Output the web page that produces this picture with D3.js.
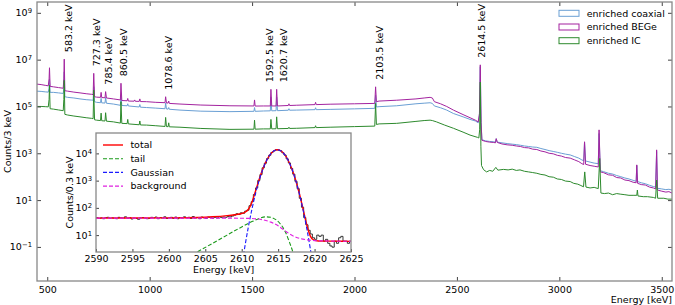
<!DOCTYPE html>
<html>
<head>
<meta charset="utf-8">
<script src="https://cdn.jsdelivr.net/npm/d3@7"></script>
<style>
body{margin:0;background:#fff;}
text{font-family:"DejaVu Sans",sans-serif;fill:#000;}
</style>
</head>
<body>
<div id="chart"></div>
<script>
// ---- main spectra: [energy keV, counts / 3 keV] ----
var coaxial = [[450,4.5e5],[470,4.4e5],[490,4.2e5],[505,4.1e5],[509,6e5],[511,1.5e6],[514,4e5],[530,4e5],[555,3.8e5],[578,3.6e5],[581,6e5],[583,3e6],[586,2.6e5],[600,2.45e5],[630,2.3e5],[660,2.1e5],[690,1.95e5],[717,1.87e5],[724,1.85e5],[727,7e5],[731,1.6e5],[741,1.5e5],[760,1.45e5],[763,2.2e5],[766,1.42e5],[782,1.4e5],[785,2.4e5],[789,1.37e5],[823,1.27e5],[857,1.12e5],[860,3e5],[864,1.1e5],[890,1.07e5],[893,1.3e5],[896,1.05e5],[949,9.5e4],[952,1.2e5],[955,9.3e4],[985,9e4],[1030,8.5e4],[1075,8e4],[1078,1.4e5],[1082,7.8e4],[1090,7.7e4],[1093,9e4],[1096,7.6e4],[1148,7e4],[1250,6.3e4],[1392,6e4],[1509,6.2e4],[1512,9e4],[1515,6.2e4],[1555,6.4e4],[1589,6.5e4],[1592,2.5e5],[1596,6.5e4],[1617,6.6e4],[1620,2.5e5],[1624,6.6e4],[1677,6.9e4],[1680,8e4],[1683,6.9e4],[1718,7e4],[1807,7.3e4],[1810,8.8e4],[1813,7.3e4],[1881,7.5e4],[2000,7.9e4],[2099,8.3e4],[2103,3e5],[2107,9.5e4],[2120,9.8e4],[2206,1.07e5],[2300,1.3e5],[2340,1.38e5],[2369,1.44e5],[2380,1.35e5],[2390,1.05e5],[2420,8.8e4],[2450,7e4],[2483,5e4],[2530,3.6e4],[2564,2.8e4],[2590,2.4e4],[2604,2e4],[2610,4e4],[2614,5e6],[2618,2e4],[2622,3.8e3],[2640,3.4e3],[2660,3.2e3],[2680,3.1e3],[2688,3e3],[2692,4.2e3],[2697,3e3],[2720,2.8e3],[2745,2.6e3],[2770,2.45e3],[2790,2.35e3],[2810,2.2e3],[2830,2.05e3],[2850,1.95e3],[2870,1.85e3],[2890,1.8e3],[2910,1.6e3],[2930,1.45e3],[2950,1.3e3],[2970,1.2e3],[2990,1.1e3],[3010,1e3],[3030,920],[3053,850],[3075,720],[3095,620],[3110,520],[3119,480],[3123,3e3],[3128,470],[3150,420],[3170,380],[3190,360],[3194,7e3],[3200,180],[3215,165],[3240,140],[3260,130],[3280,112],[3300,100],[3320,88],[3340,80],[3360,70],[3375,64],[3378,300],[3382,62],[3400,55],[3420,50],[3440,43],[3459,38],[3470,36],[3475,1.2e3],[3479,32],[3500,30],[3520,28],[3535,29],[3550,27]];

var bege = [[450,9e5],[470,8.6e5],[490,8e5],[505,7.6e5],[509,1.5e6],[511,4.5e6],[514,7.2e5],[530,6.9e5],[555,6.4e5],[578,6e5],[581,1.5e6],[583,1.05e7],[586,4.7e5],[600,4.5e5],[630,4.1e5],[660,3.8e5],[690,3.5e5],[717,3.3e5],[724,3.2e5],[727,2.6e6],[731,2.6e5],[741,2.5e5],[760,2.45e5],[763,4e5],[766,2.4e5],[782,2.35e5],[785,4.3e5],[789,2.3e5],[823,2.1e5],[857,1.9e5],[860,9.8e5],[864,1.8e5],[890,1.75e5],[893,2.2e5],[896,1.7e5],[924,1.68e5],[927,1.9e5],[930,1.66e5],[949,1.65e5],[952,2.1e5],[955,1.62e5],[985,1.6e5],[1030,1.5e5],[1075,1.45e5],[1078,2.6e5],[1082,1.4e5],[1090,1.4e5],[1093,1.7e5],[1096,1.35e5],[1148,1.27e5],[1250,1.15e5],[1392,1.07e5],[1509,1.05e5],[1512,1.9e5],[1515,1.04e5],[1555,1.05e5],[1589,1.05e5],[1592,5.4e5],[1596,1.05e5],[1617,1.05e5],[1620,5.4e5],[1624,1.05e5],[1677,1.1e5],[1680,1.3e5],[1683,1.1e5],[1718,1.13e5],[1807,1.2e5],[1810,1.5e5],[1813,1.2e5],[1881,1.25e5],[2000,1.3e5],[2099,1.35e5],[2103,6.9e5],[2107,1.6e5],[2120,1.7e5],[2206,1.85e5],[2300,2.1e5],[2340,2.3e5],[2369,2.45e5],[2380,2.3e5],[2390,1.6e5],[2420,1.3e5],[2450,1e5],[2483,7e4],[2530,4.5e4],[2564,3.3e4],[2590,2.6e4],[2604,2.2e4],[2610,5e4],[2614,6e6],[2618,2e4],[2622,3.6e3],[2640,3.2e3],[2660,3.0e3],[2680,2.9e3],[2688,2.8e3],[2692,4.2e3],[2697,2.9e3],[2720,2.5e3],[2745,2.3e3],[2770,2.2e3],[2790,2.05e3],[2810,1.95e3],[2830,1.75e3],[2850,1.7e3],[2870,1.5e3],[2890,1.45e3],[2910,1.25e3],[2930,1.15e3],[2950,1e3],[2970,950],[2990,820],[3010,760],[3030,660],[3053,620],[3075,520],[3095,440],[3110,360],[3119,330],[3123,3.1e3],[3128,340],[3150,300],[3170,280],[3190,260],[3194,1e4],[3200,160],[3215,150],[3240,120],[3260,115],[3280,92],[3300,88],[3320,72],[3340,68],[3360,58],[3375,55],[3378,320],[3382,52],[3400,46],[3420,44],[3440,36],[3459,33],[3470,30],[3475,1.4e3],[3479,27],[3500,24],[3520,22],[3535,23],[3550,20]];

var ic = [[450,1e5],[470,1e5],[490,9.8e4],[505,9.6e4],[509,2e5],[511,8e5],[514,8e4],[530,7.7e4],[555,7.1e4],[578,6.6e4],[581,2e5],[583,1.3e6],[586,4.6e4],[600,4.3e4],[630,3.9e4],[660,3.6e4],[690,3.3e4],[717,3.1e4],[724,3e4],[727,5e5],[731,2.7e4],[741,2.6e4],[760,2.5e4],[763,5.2e4],[766,2.45e4],[782,2.4e4],[785,5.4e4],[789,2.35e4],[823,2.2e4],[857,1.95e4],[860,1.6e5],[864,1.9e4],[890,1.85e4],[893,2.8e4],[896,1.8e4],[949,1.65e4],[952,2.4e4],[955,1.62e4],[985,1.6e4],[1030,1.5e4],[1075,1.4e4],[1078,3.4e4],[1082,1.38e4],[1090,1.37e4],[1093,2e4],[1096,1.35e4],[1148,1.3e4],[1250,1.15e4],[1392,1.05e4],[1509,1.07e4],[1512,2.6e4],[1515,1.07e4],[1555,1.1e4],[1589,1.1e4],[1592,2.8e4],[1596,1.1e4],[1617,1.12e4],[1620,3.6e4],[1624,1.12e4],[1677,1.15e4],[1680,1.3e4],[1683,1.15e4],[1718,1.17e4],[1807,1.25e4],[1810,1.5e4],[1813,1.25e4],[1881,1.3e4],[2000,1.38e4],[2099,1.45e4],[2103,1.35e5],[2107,1.7e4],[2120,1.8e4],[2206,1.9e4],[2300,2.3e4],[2340,2.5e4],[2369,2.6e4],[2380,2.5e4],[2400,2.2e4],[2440,1.6e4],[2483,1.17e4],[2530,8e3],[2564,6e3],[2600,4.8e3],[2607,4.5e3],[2611,1e4],[2614,1.1e6],[2617,2e3],[2620,300],[2630,200],[2645,160],[2660,185],[2675,170],[2690,250],[2700,190],[2727,205],[2750,195],[2770,210],[2790,185],[2808,195],[2830,170],[2850,160],[2870,150],[2890,140],[2910,125],[2930,118],[2950,100],[2971,95],[2990,80],[3010,76],[3030,65],[3053,62],[3070,52],[3090,48],[3105,42],[3118,37],[3124,160],[3130,36],[3150,33],[3170,35],[3190,31],[3197,600],[3203,20],[3220,19],[3240,20],[3260,17],[3280,19],[3297,18],[3320,17],[3340,16],[3360,16],[3378,16],[3381,27],[3384,15],[3410,14],[3430,14],[3459,13],[3470,12],[3475,72],[3480,12],[3510,12],[3530,11],[3550,11]];

var seriesNames = ["enriched coaxial", "enriched BEGe", "enriched IC"];
var seriesColors = ["#6a9fd4", "#a3239f", "#2d8a2d"];

var peakE = [583.2, 727.3, 785.4, 860.5, 1078.6, 1592.5, 1620.7, 2103.5, 2614.5];
var peakTop = [1.05e7, 2.6e6, 4.3e5, 9.8e5, 2.6e5, 5.4e5, 5.4e5, 6.9e5, 6e6];
var peakText = ["583.2 keV","727.3 keV","785.4 keV","860.5 keV","1078.6 keV","1592.5 keV","1620.7 keV","2103.5 keV","2614.5 keV"];
var peakShift = [4, 3, 3, 3, 3, -1, 7, 4, 1];

var xTicks = [500, 1000, 1500, 2000, 2500, 3000, 3500];
var yTicks = [1e-1, 1e1, 1e3, 1e5, 1e7, 1e9];

// ---- inset: 2614.5 keV line, 0.3 keV bins from 2590 ----
var binStart = 2590, binWidth = 0.3;
var binCounts = [44,41,43,40,44,45,41,43,42,40,45,43,42,47,41,44,39,42,41,38,43,44,42,40,41,45,43,46,40,44,42,47,41,43,45,41,46,40,44,42,47,43,45,41,48,42,44,40,46,43,41,46,44,42,45,43,47,44,46,45,48,47,50,54,
 61,57,66,63,76,82,120,168,310,540,1020,1680,2950,4350,6400,8500,10800,12300,13500,13300,12500,10600,8700,6300,4450,2800,1720,940,510,225,105,44,24,15,11,8,
 7,10,9,10,6,7,5,4,3.6,6,5,8,9,6,6,5,6];

var fitTotal = [[2590,42],[2600,43],[2604,44.5],[2606,47],[2608,52],[2609,56],[2610,62],[2610.4,68],[2610.9,87],[2611.4,162],[2611.9,415],[2612.4,1120],[2612.9,2700],[2613.4,5450],[2613.9,9040],[2614.4,12260],[2614.9,13550],[2615.4,12230],[2615.9,8990],[2616.4,5385],[2616.9,2630],[2617.4,1050],[2617.9,345],[2618.4,96],[2618.9,25.5],[2619.4,9.4],[2619.9,6.5],[2620.5,6.1],[2622,6],[2625,5.9]];
var fitTail = [[2602.5,1.5],[2604,2.5],[2606,5],[2608,10],[2610,20],[2611.5,32],[2612.5,42],[2613.3,47],[2614,45],[2614.8,35],[2615.5,22],[2616,13],[2616.5,6],[2617,2.5],[2617.5,0.8]];
var fitGauss = [[2609.4,0.055],[2609.9,0.48],[2610.4,3.35],[2610.9,19.2],[2611.4,89],[2611.9,338],[2612.4,1042],[2612.9,2620],[2613.4,5370],[2613.9,8960],[2614.4,12190],[2614.9,13500],[2615.4,12190],[2615.9,8960],[2616.4,5370],[2616.9,2620],[2617.4,1042],[2617.9,338],[2618.4,89],[2618.9,19.2],[2619.4,3.35],[2619.9,0.48],[2620.4,0.055]];
var fitBg = [[2590,42],[2608,42],[2611,41],[2612,39.5],[2613,36],[2614,30],[2615,22],[2616,14],[2617,9.5],[2618,7.5],[2619,6.7],[2620,6.3],[2622,6.1],[2625,5.9]];

var insetNames = ["total", "tail", "Gaussian", "background"];
var insetColors = ["#ff0000", "#1a9a1a", "#1a1aff", "#e020e0"];
var insetDash = [null, "4,2", "4,2", "4,2"];
var insetXTicks = [2590, 2595, 2600, 2605, 2610, 2615, 2620, 2625];
var insetYTicks = [1e1, 1e2, 1e3, 1e4];

// ---- layout ----
var W = 675, H = 305;
var margin = {top: 2, right: 3, bottom: 24, left: 37};
var width = W - margin.left - margin.right,
    height = H - margin.top - margin.bottom;
var frameColor = "#888";

var svg = d3.select("#chart").append("svg").attr("width", W).attr("height", H);
var g = svg.append("g").attr("transform", "translate(" + margin.left + "," + margin.top + ")");

var x = d3.scaleLinear().domain([450, 3550]).range([0, width]);
var y = d3.scaleLog().domain([3.5e-3, 2.9e9]).range([height, 0]);

function supLabels(sel) {
  sel.selectAll(".tick text").each(function(d) {
    var e = Math.round(Math.log10(d));
    var t = d3.select(this);
    t.text("10");
    t.append("tspan").attr("dy", "-0.45em").attr("font-size", "0.72em").text(e < 0 ? "\u2212" + (-e) : e);
  });
}

g.append("defs").append("clipPath").attr("id", "mainclip")
  .append("rect").attr("width", width).attr("height", height);

var lineMain = d3.line()
  .x(function(d) { return x(d[0]); })
  .y(function(d) { return y(d[1]); });

var plotArea = g.append("g").attr("clip-path", "url(#mainclip)");
[coaxial, bege, ic].forEach(function(s, i) {
  plotArea.append("path")
    .datum(s)
    .attr("fill", "none")
    .attr("stroke", seriesColors[i])
    .attr("stroke-width", 1)
    .attr("d", lineMain);
});

// peak labels
peakE.forEach(function(e, i) {
  g.append("text")
    .attr("transform", "translate(" + (x(e) + peakShift[i]) + "," + (y(peakTop[i]) - 7) + ") rotate(-90)")
    .attr("dy", "0.35em")
    .style("font-size", "9.5px")
    .text(peakText[i]);
});

// axes
var xAxis = g.append("g").attr("transform", "translate(0," + height + ")")
  .call(d3.axisBottom(x).tickValues(xTicks).tickFormat(d3.format("d"))
    .tickSizeInner(-4).tickSizeOuter(0).tickPadding(5));
xAxis.selectAll("text").style("font-size", "9.5px");
g.append("g").call(d3.axisTop(x).tickValues(xTicks).tickSizeInner(-4).tickSizeOuter(0).tickFormat(""));

var yAxis = g.append("g")
  .call(d3.axisLeft(y).tickValues(yTicks).tickSizeInner(-4).tickSizeOuter(0).tickPadding(5));
yAxis.selectAll("text").style("font-size", "9.5px");
supLabels(yAxis);
g.append("g").attr("transform", "translate(" + width + ",0)")
  .call(d3.axisRight(y).tickValues(yTicks).tickSizeInner(-4).tickSizeOuter(0).tickFormat(""));

g.selectAll(".domain").remove();
g.selectAll(".tick line").attr("stroke", "#444");

g.append("rect").attr("width", width).attr("height", height)
  .attr("fill", "none").attr("stroke", frameColor).attr("stroke-width", 1.3);

g.append("text")
  .attr("transform", "translate(" + (-margin.left + 8) + "," + (height / 2) + ") rotate(-90)")
  .attr("text-anchor", "middle").attr("dy", "0.35em")
  .style("font-size", "9.5px").text("Counts/3 keV");
g.append("text")
  .attr("x", width).attr("y", height + 19)
  .attr("text-anchor", "end").attr("dy", "0.35em")
  .style("font-size", "9.5px").text("Energy [keV]");

// legend
var leg = g.append("g").attr("transform", "translate(" + (559 - margin.left) + "," + (13.3 - margin.top) + ")");
seriesNames.forEach(function(n, i) {
  var row = leg.append("g").attr("transform", "translate(0," + (i * 13.7) + ")");
  row.append("rect").attr("x", 0).attr("y", -3).attr("width", 20).attr("height", 6)
    .attr("fill", "none").attr("stroke", seriesColors[i]).attr("stroke-width", 1);
  row.append("text").attr("x", 27.7).attr("dy", "0.35em").style("font-size", "9.5px").text(n);
});

// ---- inset ----
var inset = {left: 96, top: 133, width: 255, height: 119};
var ig = svg.append("g").attr("transform", "translate(" + inset.left + "," + inset.top + ")");
var xi = d3.scaleLinear().domain([2590, 2625]).range([0, inset.width]);
var yi = d3.scaleLog().domain([2.4, 5.6e4]).range([inset.height, 0]);

ig.append("rect").attr("width", inset.width).attr("height", inset.height).attr("fill", "#fff");
ig.append("defs").append("clipPath").attr("id", "insetclip")
  .append("rect").attr("width", inset.width).attr("height", inset.height);
var ia = ig.append("g").attr("clip-path", "url(#insetclip)");

var histPts = binCounts.map(function(c, i) { return [binStart + i * binWidth, c]; });
histPts.push([binStart + binCounts.length * binWidth, binCounts[binCounts.length - 1]]);
ia.append("path").datum(histPts)
  .attr("fill", "none").attr("stroke", "#222").attr("stroke-width", 0.9)
  .attr("d", d3.line().curve(d3.curveStepAfter)
    .x(function(d) { return xi(d[0]); })
    .y(function(d) { return yi(d[1]); }));

var lineInset = d3.line().curve(d3.curveMonotoneX)
  .x(function(d) { return xi(d[0]); })
  .y(function(d) { return yi(d[1]); });

[fitTotal, fitTail, fitGauss, fitBg].forEach(function(s, i) {
  var p = ia.append("path").datum(s)
    .attr("fill", "none").attr("stroke", insetColors[i])
    .attr("stroke-width", i === 0 ? 1.4 : 1.1)
    .attr("d", lineInset);
  if (insetDash[i]) p.attr("stroke-dasharray", insetDash[i]);
});

var ixAxis = ig.append("g").attr("transform", "translate(0," + inset.height + ")")
  .call(d3.axisBottom(xi).tickValues(insetXTicks).tickFormat(d3.format("d"))
    .tickSizeInner(-3).tickSizeOuter(0).tickPadding(3));
ixAxis.selectAll("text").style("font-size", "9.5px");
var iyAxis = ig.append("g")
  .call(d3.axisLeft(yi).tickValues(insetYTicks).tickSizeInner(-3).tickSizeOuter(0).tickPadding(4));
iyAxis.selectAll("text").style("font-size", "9.5px");
supLabels(iyAxis);
ig.selectAll(".domain").remove();
ig.selectAll(".tick line").attr("stroke", "#444");

ig.append("rect").attr("width", inset.width).attr("height", inset.height)
  .attr("fill", "none").attr("stroke", frameColor).attr("stroke-width", 1.3);

ig.append("text")
  .attr("transform", "translate(-26," + (inset.height / 2) + ") rotate(-90)")
  .attr("text-anchor", "middle").attr("dy", "0.35em")
  .style("font-size", "9.5px").text("Counts/0.3 keV");
ig.append("text")
  .attr("x", inset.width / 2).attr("y", inset.height + 18)
  .attr("text-anchor", "middle").attr("dy", "0.35em")
  .style("font-size", "9.5px").text("Energy [keV]");

var ileg = ig.append("g").attr("transform", "translate(7,12)");
insetNames.forEach(function(n, i) {
  var row = ileg.append("g").attr("transform", "translate(0," + (i * 13.7) + ")");
  var l = row.append("line").attr("x1", 0).attr("x2", 20).attr("y1", 0).attr("y2", 0)
    .attr("stroke", insetColors[i]).attr("stroke-width", i === 0 ? 1.4 : 1.1);
  if (insetDash[i]) l.attr("stroke-dasharray", insetDash[i]);
  row.append("text").attr("x", 27.4).attr("dy", "0.35em").style("font-size", "9.5px").text(n);
});
</script>
</body>
</html>
